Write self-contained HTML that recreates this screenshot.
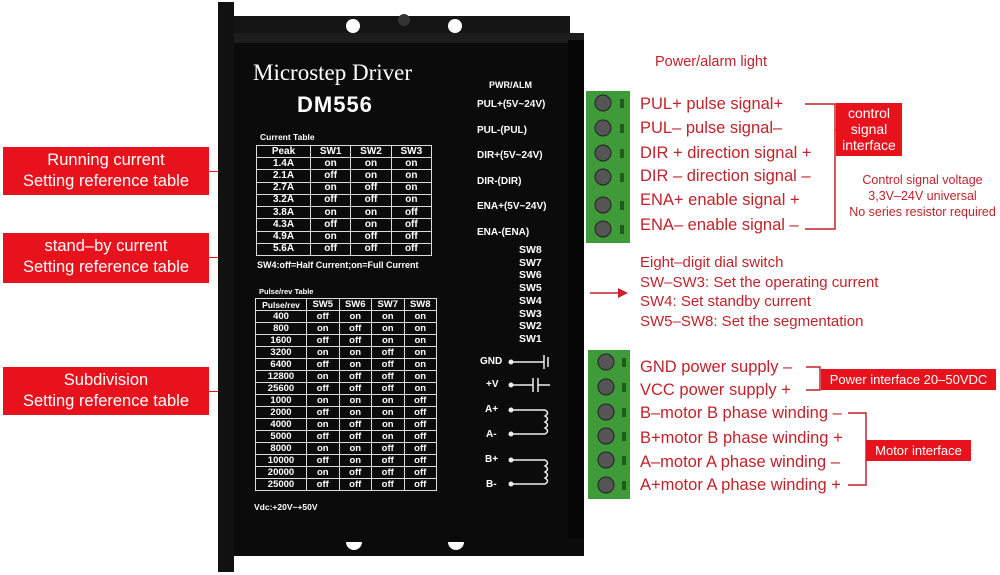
<!DOCTYPE html>
<html><head><meta charset="utf-8"><style>
body{margin:0;width:1000px;height:575px;background:#fff;position:relative;overflow:hidden;font-family:"Liberation Sans",Arial,sans-serif}
.lb{position:absolute;left:3px;width:206px;background:#e8121c;color:#fff;font-size:16.5px;line-height:21px;text-align:center;padding-top:3px}
.rl{position:absolute;color:#c0232b;font-size:16.5px;white-space:nowrap;line-height:20px}
.bx{position:absolute;background:#e8121c;color:#fff;text-align:center;white-space:nowrap}
table{position:absolute;border-collapse:collapse;color:#fff;font-weight:bold;font-size:10px;text-align:center;table-layout:fixed}
td{border:1.3px solid #ddd;padding:0;line-height:10px}
.w{position:absolute;color:#fff;font-weight:bold;font-size:10px;white-space:nowrap}
</style></head><body>
<div class="lb" style="top:147px;height:45px">Running current<br>Setting reference table</div>
<div class="lb" style="top:233px;height:47px">stand–by current<br>Setting reference table</div>
<div class="lb" style="top:367px;height:45px">Subdivision<br>Setting reference table</div>
<div style="position:absolute;left:209px;top:171px;width:10px;height:1px;background:#e8121c"></div>
<div style="position:absolute;left:209px;top:257px;width:10px;height:1px;background:#e8121c"></div>
<div style="position:absolute;left:209px;top:391px;width:10px;height:1px;background:#e8121c"></div>

<svg style="position:absolute;left:0;top:0" width="1000" height="575">
<rect x="218" y="2" width="16" height="570" fill="#111"/>
<rect x="234" y="16" width="336" height="20" fill="#151515"/>
<rect x="234" y="33" width="350" height="523" fill="#0b0b0b"/>
<rect x="234" y="33" width="350" height="10" fill="#1d1d1d"/>
<rect x="568" y="40" width="16" height="498" fill="#050505"/>
<circle cx="353" cy="26" r="7" fill="#fff"/><circle cx="455" cy="26" r="7" fill="#fff"/>
<circle cx="404" cy="20" r="6" fill="#333"/>
<path d="M346 542 a8 8 0 0 0 16 0z M448 542 a8 8 0 0 0 16 0z" fill="#fff"/>
<rect x="586" y="91" width="44" height="152" fill="#3f9a3a"/>
<rect x="588" y="350" width="42" height="149" fill="#3f9a3a"/>
<g fill="#555" stroke="#222" stroke-width="1">
<circle cx="603" cy="103" r="8"/><circle cx="603" cy="128" r="8"/><circle cx="603" cy="153" r="8"/><circle cx="603" cy="177" r="8"/><circle cx="603" cy="205" r="8"/><circle cx="603" cy="229" r="8"/>
<circle cx="606" cy="362" r="8"/><circle cx="606" cy="387" r="8"/><circle cx="606" cy="412" r="8"/><circle cx="606" cy="436" r="8"/><circle cx="606" cy="460" r="8"/><circle cx="606" cy="485" r="8"/>
</g>
<g fill="#1d5c1b"><rect x="620" y="99" width="4" height="9"/><rect x="620" y="124" width="4" height="9"/><rect x="620" y="149" width="4" height="9"/><rect x="620" y="173" width="4" height="9"/><rect x="620" y="201" width="4" height="9"/><rect x="620" y="225" width="4" height="9"/>
<rect x="622" y="358" width="4" height="9"/><rect x="622" y="383" width="4" height="9"/><rect x="622" y="408" width="4" height="9"/><rect x="622" y="432" width="4" height="9"/><rect x="622" y="456" width="4" height="9"/><rect x="622" y="481" width="4" height="9"/></g>
<g stroke="#eee" stroke-width="1.5" fill="none">
<path d="M511 362 H544 M544 355 V369 M548 357 V367"/>
<path d="M511 385 H533 M533 378 V392 M538 378 V392 M538 385 H550"/>
<path d="M511 410 H545 q5 3 0 6 q5 3 0 6 q5 3 0 6 q5 3 0 6 H511"/>
<path d="M511 460 H545 q5 3 0 6 q5 3 0 6 q5 3 0 6 q5 3 0 6 H511"/>
</g>
<g fill="#eee"><circle cx="511" cy="362" r="2.5"/><circle cx="511" cy="385" r="2.5"/><circle cx="511" cy="410" r="2.5"/><circle cx="511" cy="434" r="2.5"/><circle cx="511" cy="460" r="2.5"/><circle cx="511" cy="484" r="2.5"/></g>
<g stroke="#c0232b" stroke-width="1.5" fill="none">
<path d="M805 104 H835 V229 H805 M835 130 H840"/>
<path d="M806 367 H820 V390 H806"/>
<path d="M848 413 H866 V485 H848"/>
<path d="M590 293 H620"/>
</g>
<path d="M618 288 L628 293 L618 298z" fill="#d0202a"/>
</svg>

<div style="position:absolute;left:253px;top:60px;color:#fff;font-family:'Liberation Serif',serif;font-size:23px">Microstep Driver</div>
<div style="position:absolute;left:297px;top:92px;color:#fff;font-weight:bold;font-size:22px;letter-spacing:1px">DM556</div>
<div class="w" style="left:260px;top:132px;font-size:8.5px">Current Table</div>
<table style="left:256px;top:145px;width:176px;height:111px">
<tr><td style="width:53px">Peak</td><td>SW1</td><td>SW2</td><td>SW3</td></tr>
<tr><td>1.4A</td><td>on</td><td>on</td><td>on</td></tr>
<tr><td>2.1A</td><td>off</td><td>on</td><td>on</td></tr>
<tr><td>2.7A</td><td>on</td><td>off</td><td>on</td></tr>
<tr><td>3.2A</td><td>off</td><td>off</td><td>on</td></tr>
<tr><td>3.8A</td><td>on</td><td>on</td><td>off</td></tr>
<tr><td>4.3A</td><td>off</td><td>on</td><td>off</td></tr>
<tr><td>4.9A</td><td>on</td><td>off</td><td>off</td></tr>
<tr><td>5.6A</td><td>off</td><td>off</td><td>off</td></tr>
</table>
<div class="w" style="left:257px;top:260px;font-size:9px">SW4:off=Half Current;on=Full Current</div>
<div class="w" style="left:259px;top:287px;font-size:7.5px">Pulse/rev Table</div>
<table style="left:255px;top:298px;width:182px;height:193px;font-size:9.5px">
<tr><td style="width:50px;font-size:8.5px">Pulse/rev</td><td>SW5</td><td>SW6</td><td>SW7</td><td>SW8</td></tr>
<tr><td>400</td><td>off</td><td>on</td><td>on</td><td>on</td></tr>
<tr><td>800</td><td>on</td><td>off</td><td>on</td><td>on</td></tr>
<tr><td>1600</td><td>off</td><td>off</td><td>on</td><td>on</td></tr>
<tr><td>3200</td><td>on</td><td>on</td><td>off</td><td>on</td></tr>
<tr><td>6400</td><td>off</td><td>on</td><td>off</td><td>on</td></tr>
<tr><td>12800</td><td>on</td><td>off</td><td>off</td><td>on</td></tr>
<tr><td>25600</td><td>off</td><td>off</td><td>off</td><td>on</td></tr>
<tr><td>1000</td><td>on</td><td>on</td><td>on</td><td>off</td></tr>
<tr><td>2000</td><td>off</td><td>on</td><td>on</td><td>off</td></tr>
<tr><td>4000</td><td>on</td><td>off</td><td>on</td><td>off</td></tr>
<tr><td>5000</td><td>off</td><td>off</td><td>on</td><td>off</td></tr>
<tr><td>8000</td><td>on</td><td>on</td><td>off</td><td>off</td></tr>
<tr><td>10000</td><td>off</td><td>on</td><td>off</td><td>off</td></tr>
<tr><td>20000</td><td>on</td><td>off</td><td>off</td><td>off</td></tr>
<tr><td>25000</td><td>off</td><td>off</td><td>off</td><td>off</td></tr>
</table>
<div class="w" style="left:254px;top:502px;font-size:8.5px">Vdc:+20V~+50V</div>
<div class="w" style="left:489px;top:80px;font-size:9px">PWR/ALM</div>
<div class="w" style="left:477px;top:99px">PUL+(5V~24V)</div>
<div class="w" style="left:477px;top:125px">PUL-(PUL)</div>
<div class="w" style="left:477px;top:150px">DIR+(5V~24V)</div>
<div class="w" style="left:477px;top:176px">DIR-(DIR)</div>
<div class="w" style="left:477px;top:201px">ENA+(5V~24V)</div>
<div class="w" style="left:477px;top:227px">ENA-(ENA)</div>
<div class="w" style="left:519px;top:244px;font-size:10.5px;line-height:12.7px">SW8<br>SW7<br>SW6<br>SW5<br>SW4<br>SW3<br>SW2<br>SW1</div>
<div class="w" style="left:480px;top:356px">GND</div>
<div class="w" style="left:486px;top:379px">+V</div>
<div class="w" style="left:485px;top:404px">A+</div>
<div class="w" style="left:486px;top:429px">A-</div>
<div class="w" style="left:485px;top:454px">B+</div>
<div class="w" style="left:486px;top:479px">B-</div>

<div class="rl" style="left:655px;top:52px;font-size:14.5px">Power/alarm light</div>
<div class="rl" style="left:640px;top:94px">PUL+ pulse signal+</div>
<div class="rl" style="left:640px;top:118px">PUL– pulse signal–</div>
<div class="rl" style="left:640px;top:143px">DIR + direction signal +</div>
<div class="rl" style="left:640px;top:166px">DIR – direction signal –</div>
<div class="rl" style="left:640px;top:190px">ENA+ enable signal +</div>
<div class="rl" style="left:640px;top:215px">ENA– enable signal –</div>
<div class="bx" style="left:836px;top:103px;width:66px;height:53px;font-size:14px;line-height:16px;padding-top:2px;box-sizing:border-box">control<br>signal<br>interface</div>
<div class="rl" style="left:840px;top:172px;width:165px;text-align:center;font-size:12.5px;line-height:16px">Control signal voltage<br>3,3V–24V universal<br>No series resistor required</div>
<div class="rl" style="left:640px;top:253px;font-size:15px;line-height:19.5px">Eight–digit dial switch<br>SW–SW3: Set the operating current<br>SW4: Set standby current<br>SW5–SW8: Set the segmentation</div>
<div class="rl" style="left:640px;top:357px">GND power supply –</div>
<div class="rl" style="left:640px;top:380px">VCC power supply +</div>
<div class="rl" style="left:640px;top:403px">B–motor B phase winding –</div>
<div class="rl" style="left:640px;top:428px">B+motor B phase winding +</div>
<div class="rl" style="left:640px;top:452px">A–motor A phase winding –</div>
<div class="rl" style="left:640px;top:475px">A+motor A phase winding +</div>
<div class="bx" style="left:821px;top:369px;width:175px;height:21px;font-size:13px;line-height:21px">Power interface 20–50VDC</div>
<div class="bx" style="left:866px;top:440px;width:105px;height:21px;font-size:13px;line-height:21px">Motor interface</div>
</body></html>
